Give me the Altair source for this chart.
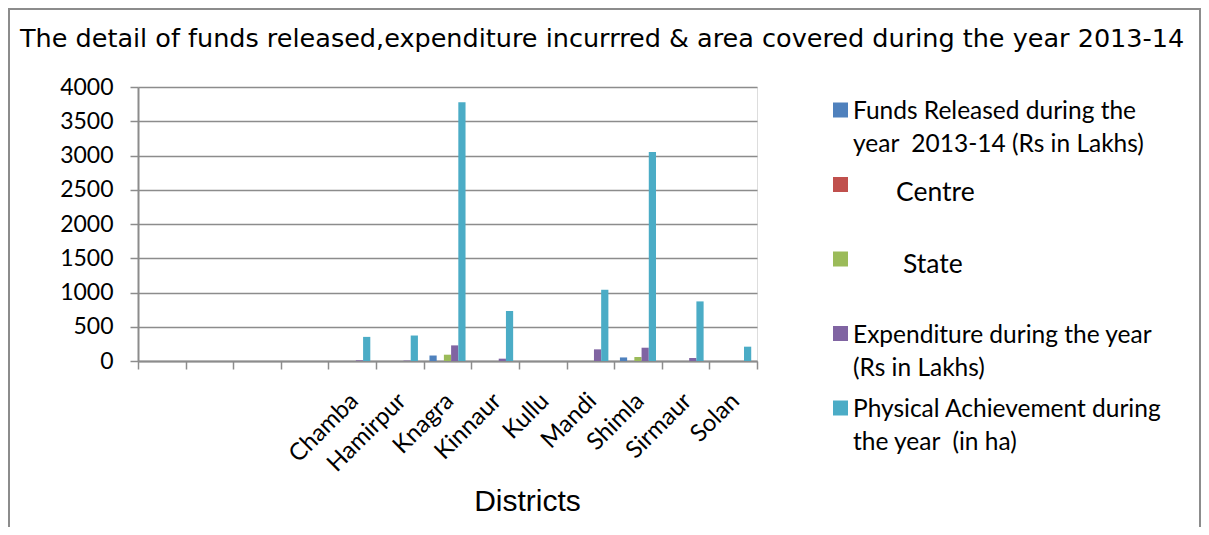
import altair as alt
import pandas as pd

# ---- data ----
blank_slots = [" ", "  ", "   ", "    "]
districts = ["Chamba", "Hamirpur", "Knagra", "Kinnaur", "Kullu", "Mandi", "Shimla", "Sirmaur", "Solan"]
series = ["Funds", "Centre", "State", "Expenditure", "Physical"]
series_labels = [
    "Funds Released during the\nyear \u00a02013-14 (Rs in Lakhs)",
    "Centre",
    "State",
    "Expenditure during the year\n(Rs in Lakhs)",
    "Physical Achievement during\nthe year \u00a0(in ha)",
]
funds = [0, 0, 80, 0, 0, 0, 52, 0, 0]
centre = [0, 0, 0, 0, 0, 0, 0, 0, 0]
state = [0, 0, 92, 0, 0, 0, 58, 0, 0]
expenditure = [10, 6, 228, 34, 0, 170, 194, 44, 0]
physical = [352, 372, 3778, 730, 0, 1040, 3050, 870, 209]
y_ticks = [0, 500, 1000, 1500, 2000, 2500, 3000, 3500, 4000]
colors = ["#4F81BD", "#C0504D", "#9BBB59", "#8064A2", "#4BACC6"]

title_text = "The detail of funds released,expenditure incurrred & area covered during the year 2013-14"

all_slots = blank_slots + districts
values_by_series = [funds, centre, state, expenditure, physical]
rows = []
for s, vals in zip(series, values_by_series):
    for d, v in zip(districts, vals):
        rows.append({"district": d, "series": s, "value": v})
df = pd.DataFrame(rows)
leg_df = pd.DataFrame({"series": series, "label": series_labels})

GRAY = "#8c8c8c"
W, H = 619, 274
PAD = {"left": 130, "top": 79, "right": 444, "bottom": 166}

color_enc = alt.Color("series:N", scale=alt.Scale(domain=series, range=colors), legend=None)

bars = alt.Chart(df).mark_bar().encode(
    x=alt.X(
        "district:N",
        sort=all_slots,
        scale=alt.Scale(domain=all_slots, paddingInner=0, paddingOuter=0),
        axis=alt.Axis(
            title="Districts",
            tickBand="extent",
            labelAngle=-45,
            labelAlign="right",
            labelBaseline="middle",
            labelFont="Lato",
            labelFontSize=24,
            labelColor="black",
            labelPadding=28,
            labelOffset=2,
            labelOverlap=False,
            tickSize=8,
            tickColor=GRAY,
            tickWidth=1.5,
            domainColor=GRAY,
            domainWidth=2,
            grid=False,
            titleFont="Liberation Sans",
            titleFontSize=30,
            titleFontWeight="normal",
            titleColor="black",
            titleX=389,
            titleY=149,
            titleAlign="center",
            titleBaseline="alphabetic",
        ),
    ),
    xOffset=alt.XOffset("series:N", sort=series,
                        scale=alt.Scale(domain=series, paddingInner=0, paddingOuter=0.8)),
    y=alt.Y(
        "value:Q",
        scale=alt.Scale(domain=[0, 4000], nice=False),
        axis=alt.Axis(
            values=y_ticks,
            format="d",
            title=None,
            grid=True,
            gridColor=GRAY,
            gridWidth=1.5,
            domainColor=GRAY,
            domainWidth=2,
            tickColor=GRAY,
            tickWidth=1.5,
            tickSize=8,
            labelFont="Lato",
            labelFontSize=23,
            labelColor="black",
            labelPadding=17,
        ),
    ),
    color=color_enc,
)

frame = alt.Chart(pd.DataFrame({"k": [0]})).mark_rect(
    fillOpacity=0, stroke=GRAY, strokeWidth=2
).encode(
    x=alt.value(-129), x2=alt.value(W + PAD["right"] - 1),
    y=alt.value(-78), y2=alt.value(H + 300)
)

leg_y = alt.Y("series:N", scale=alt.Scale(domain=series, range=[23, 321], padding=0), axis=None)

leg_sq = alt.Chart(leg_df).mark_square(size=225, opacity=1).encode(
    x=alt.value(702.5), y=leg_y, color=color_enc
)

def leg_text(names, x, dy, size):
    return alt.Chart(leg_df).transform_filter(
        alt.FieldOneOfPredicate(field="series", oneOf=names)
    ).mark_text(
        align="left", baseline="alphabetic", dy=dy, font="Lato", fontSize=size,
        lineBreak="\n", lineHeight=33, color="black"
    ).encode(x=alt.value(x), y=leg_y, text="label:N")

t_main = leg_text(["Funds", "Expenditure", "Physical"], 715, 9, 24.5)
t_centre = leg_text(["Centre"], 758, 16, 26.5)
t_state = leg_text(["State"], 765, 14, 26.5)

chart = alt.layer(frame, bars, leg_sq, t_main, t_centre, t_state).resolve_scale(
    y="independent"
).properties(
    width=W,
    height=H,
    autosize=alt.AutoSizeParams(type="none"),
    padding=PAD,
    title=alt.Title(
        text=title_text, anchor="start", frame="group", dx=-118,
        font="DejaVu Sans", fontSize=25.5, fontWeight="normal", color="black",
        baseline="alphabetic", offset=-64,
    ),
).configure_view(strokeWidth=0).configure(background="white")

chart.save("out.html", embed_options={"renderer": "svg", "actions": False})
